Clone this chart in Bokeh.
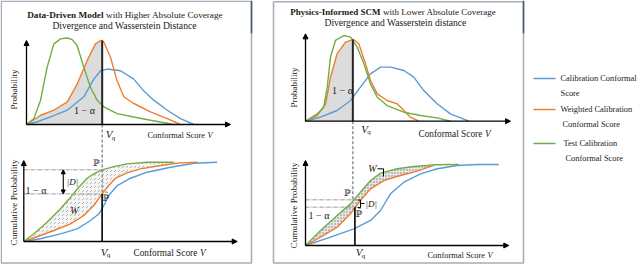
from math import pi
from bokeh.plotting import figure
from bokeh.models import Range1d, Arrow, NormalHead, Label
from bokeh.embed import file_html
from bokeh.resources import INLINE

# ---------------- data ----------------
# conformal score V in axis units (0 .. 10 along each x axis), probability in axis units
# Left panel: Data-Driven Model -- probability densities
LP_CAL_V = [0, 0.5, 1.18, 2.0, 2.81, 3.3, 3.63, 3.96, 4.61, 5.26, 5.75, 6.24, 6.9, 7.55, 8.2]
LP_CAL_P = [0, 0.03, 0.09, 0.17, 0.33, 0.54, 0.64, 0.66, 0.64, 0.54, 0.40, 0.29, 0.17, 0.07, 0.0]
LP_WCAL_V = [0, 0.69, 1.34, 2.0, 2.48, 2.97, 3.38, 3.63, 3.71, 3.79, 4.12, 4.44, 4.77, 5.26, 6.08, 6.9, 7.55]
LP_WCAL_P = [0, 0.11, 0.17, 0.27, 0.48, 0.76, 0.96, 1.0, 1.0, 0.98, 0.80, 0.52, 0.33, 0.25, 0.15, 0.07, 0.0]
LP_TEST_V = [0, 0.36, 0.69, 1.01, 1.34, 1.67, 2.0, 2.24, 2.48, 2.81, 3.14, 3.46, 3.79, 4.44, 5.26, 6.08, 7.22]
LP_TEST_P = [0, 0.07, 0.29, 0.68, 0.96, 1.02, 1.03, 1.01, 0.94, 0.68, 0.44, 0.29, 0.21, 0.13, 0.09, 0.05, 0.0]
# Left panel -- cumulative probabilities
LC_CAL_V = [0, 0.78, 1.72, 2.5, 3.13, 3.52, 3.75, 3.98, 4.38, 5.0, 5.78, 6.88, 7.97, 9.06]
LC_CAL_P = [0, 0.034, 0.097, 0.16, 0.265, 0.349, 0.454, 0.58, 0.706, 0.798, 0.874, 0.937, 0.987, 1.0]
LC_WCAL_V = [0, 0.78, 1.41, 2.19, 2.81, 3.28, 3.67, 3.98, 4.30, 4.84, 5.47, 6.41, 7.34, 8.13]
LC_WCAL_P = [0, 0.076, 0.139, 0.223, 0.328, 0.454, 0.601, 0.706, 0.798, 0.866, 0.916, 0.958, 0.992, 1.0]
LC_TEST_V = [0, 0.47, 1.09, 1.72, 2.19, 2.58, 2.97, 3.28, 3.67, 4.22, 4.84, 5.78, 7.03]
LC_TEST_P = [0, 0.097, 0.244, 0.412, 0.559, 0.685, 0.798, 0.853, 0.903, 0.945, 0.979, 1.0, 1.0]
L_VQ_PDF = 3.71
L_VQ_CDF = 3.67
L_P_LEVEL = 0.904
L_ALPHA_LEVEL = 0.60

# Right panel: Physics-Informed SCM -- probability densities
RP_CAL_V = [0, 0.73, 1.54, 2.20, 2.68, 3.17, 3.66, 4.15, 4.80, 5.28, 5.77, 6.42, 7.07, 7.97]
RP_CAL_P = [0, 0.049, 0.13, 0.251, 0.413, 0.575, 0.656, 0.656, 0.615, 0.534, 0.372, 0.211, 0.089, 0.0]
RP_WCAL_V = [0, 0.57, 0.98, 1.22, 1.54, 1.95, 2.31, 2.36, 2.60, 2.93, 3.17, 3.50, 3.98, 4.47, 4.80, 5.12, 5.53]
RP_WCAL_P = [0, 0.069, 0.211, 0.534, 0.818, 0.96, 0.99, 0.988, 0.939, 0.696, 0.494, 0.332, 0.251, 0.211, 0.13, 0.049, 0.0]
RP_TEST_V = [0, 0.57, 0.89, 1.06, 1.22, 1.46, 1.87, 2.20, 2.52, 2.85, 3.17, 3.50, 3.98, 4.80, 5.61, 6.42, 7.07]
RP_TEST_P = [0, 0.089, 0.17, 0.413, 0.777, 0.98, 1.04, 1.02, 0.899, 0.696, 0.453, 0.291, 0.19, 0.109, 0.069, 0.04, 0.0]
# Right panel -- cumulative probabilities
RC_CAL_V = [0, 1.23, 2.38, 3.20, 3.69, 4.18, 4.84, 5.66, 6.48, 7.46, 8.44, 9.51]
RC_CAL_P = [0, 0.103, 0.206, 0.309, 0.432, 0.638, 0.782, 0.885, 0.947, 0.988, 1.0, 1.0]
RC_WCAL_V = [0, 0.74, 1.56, 2.21, 2.70, 3.20, 3.85, 4.67, 5.49, 6.31]
RC_WCAL_P = [0, 0.103, 0.226, 0.391, 0.556, 0.70, 0.802, 0.864, 0.918, 0.99]
RC_TEST_V = [0, 0.74, 1.56, 2.21, 2.70, 3.20, 3.69, 4.51, 5.33, 6.31, 7.54]
RC_TEST_P = [0, 0.185, 0.37, 0.514, 0.658, 0.802, 0.893, 0.947, 0.975, 0.996, 1.0]
R_VQ_PDF = 2.31
R_VQ_CDF = 2.43
R_P_LEVEL = 0.564
R_ALPHA_LEVEL = 0.473

LEGEND_LABELS = [["Calibration Conformal", "Score"],
                 ["Weighted Calibration", "Conformal Score"],
                 ["Test Calibration", "Conformal Score"]]

# ---------------- styling / layout ----------------
BLUE, ORANGE, GREEN = "#5B9BD5", "#ED7D31", "#70AD47"
SERIF = "Liberation Serif"
W, H = 640, 264
X_END = 10.0
# sub-plot geometry in page pixels: origin x, origin y, x-axis tip, y of unit probability, y-axis top
GEOM = {
    "lpdf": (26.0, 124.0, 230.0, 40.0, 1.0),
    "lcdf": (23.3, 241.0, 236.7, 161.7, 1.02),
    "rpdf": (305.0, 120.7, 510.0, 38.3, 1.06),
    "rcdf": (305.0, 245.0, 508.3, 164.0, 1.05),
}

p = figure(width=W, height=H, x_range=Range1d(0, W), y_range=Range1d(H, 0),
           output_backend="svg", toolbar_location=None, min_border=0,
           x_axis_location=None, y_axis_location=None, background_fill_color="white",
           border_fill_color="white", outline_line_color=None)
p.xgrid.visible = False
p.ygrid.visible = False

xr, yr = {}, {}
for k, (ox, oy, xt, py1, _) in GEOM.items():
    sx = X_END / (xt - ox)
    xr[k] = Range1d((0 - ox) * sx, (W - ox) * sx)
    sy = 1.0 / (oy - py1)
    yr[k] = Range1d((oy - H) * sy, (oy - 0) * sy)
p.extra_x_ranges = xr
p.extra_y_ranges = yr


def pix_x(k, v):
    ox, oy, xt, py1, _ = GEOM[k]
    return ox + v * (xt - ox) / X_END


def pix_y(k, pr):
    ox, oy, xt, py1, _ = GEOM[k]
    return oy - pr * (oy - py1)


def lab(x, y, text, size=10, style="normal", align="center", baseline="middle", angle=0,
        font=SERIF, color="#1a1a1a"):
    p.add_layout(Label(x=x, y=y, text=text, text_font=font, text_font_size=f"{size}px",
                       text_font_style=style, text_align=align, text_baseline=baseline,
                       angle=angle, text_color=color))


# panel frames
FRAME = "#a3adbb"
p.line([0.8, 251, 251, 0.8, 0.8], [0.8, 0.8, 262.5, 262.5, 0.8], line_color=FRAME, line_width=1.5)
p.line([273, 523, 523, 273, 273], [1.2, 1.2, 262.5, 262.5, 1.2], line_color=FRAME, line_width=1.5)
p.line([251, 251], [0, 33], line_color="#44546a", line_width=1.5)
p.line([523, 523], [0, 33], line_color="#44546a", line_width=1.5)


def curves(k, sets):
    for v, pr, c in sets:
        p.line(v, pr, x_range_name=k, y_range_name=k, line_color=c, line_width=1.4)


def axes(k):
    top = GEOM[k][4]
    head = dict(size=5, fill_color="black", line_color="black")
    p.add_layout(Arrow(x_start=0, y_start=0, x_end=X_END, y_end=0, x_range_name=k, y_range_name=k,
                       line_width=1.3, end=NormalHead(**head)))
    p.add_layout(Arrow(x_start=0, y_start=0, x_end=0, y_end=top, x_range_name=k, y_range_name=k,
                       line_width=1.3, end=NormalHead(**head)))


# ---- shaded areas (under weighted calibration density up to V_q) ----
for k, vq, v, pr in (("lpdf", L_VQ_PDF, LP_WCAL_V, LP_WCAL_P), ("rpdf", R_VQ_PDF, RP_WCAL_V, RP_WCAL_P)):
    sv = [a for a in v if a <= vq]
    sp = [b for a, b in zip(v, pr) if a <= vq]
    p.varea(x=sv, y1=0, y2=sp, x_range_name=k, y_range_name=k, fill_color="#dcdcdc", fill_alpha=1)

# ---- hatched Wasserstein regions ----
p.patch(LC_TEST_V + LC_WCAL_V[::-1], LC_TEST_P + LC_WCAL_P[::-1], x_range_name="lcdf", y_range_name="lcdf",
        fill_color="#f4f4f4", fill_alpha=1, line_color=None, hatch_pattern=",", hatch_color="#8a8a8a",
        hatch_scale=4, hatch_weight=0.6)
p.patch(RC_TEST_V + RC_WCAL_V[::-1], RC_TEST_P + RC_WCAL_P[::-1], x_range_name="rcdf", y_range_name="rcdf",
        fill_color="#e8e8e8", fill_alpha=1, line_color=None, hatch_pattern=".", hatch_color="#7a7a7a",
        hatch_scale=3, hatch_weight=0.6)

# ---- dash-dot levels in CDFs ----
for k, vq, levels in (("lcdf", L_VQ_CDF, (L_P_LEVEL, L_ALPHA_LEVEL)), ("rcdf", R_VQ_CDF + 0.1, (R_P_LEVEL, R_ALPHA_LEVEL))):
    for lv in levels:
        p.line([0, vq], [lv, lv], x_range_name=k, y_range_name=k, line_color="#8c8c8c",
               line_width=0.9, line_dash="4 1 1 1")

# ---- curves ----
curves("lpdf", [(LP_CAL_V, LP_CAL_P, BLUE), (LP_WCAL_V, LP_WCAL_P, ORANGE), (LP_TEST_V, LP_TEST_P, GREEN)])
curves("lcdf", [(LC_CAL_V, LC_CAL_P, BLUE), (LC_WCAL_V, LC_WCAL_P, ORANGE), (LC_TEST_V, LC_TEST_P, GREEN)])
curves("rpdf", [(RP_CAL_V, RP_CAL_P, BLUE), (RP_WCAL_V, RP_WCAL_P, ORANGE), (RP_TEST_V, RP_TEST_P, GREEN)])
curves("rcdf", [(RC_CAL_V, RC_CAL_P, BLUE), (RC_WCAL_V, RC_WCAL_P, ORANGE), (RC_TEST_V, RC_TEST_P, GREEN)])

# ---- V_q markers ----
p.line([L_VQ_PDF, L_VQ_PDF], [0, 1.0], x_range_name="lpdf", y_range_name="lpdf", line_color="#262626", line_width=2)
p.line([R_VQ_PDF, R_VQ_PDF], [0, 0.99], x_range_name="rpdf", y_range_name="rpdf", line_color="#262626", line_width=2)
p.line([L_VQ_CDF, L_VQ_CDF], [0, L_ALPHA_LEVEL], x_range_name="lcdf", y_range_name="lcdf", line_color="black", line_width=1.6)
p.line([R_VQ_CDF, R_VQ_CDF], [0, R_ALPHA_LEVEL], x_range_name="rcdf", y_range_name="rcdf", line_color="black", line_width=1.6)
p.line([pix_x("lpdf", L_VQ_PDF)] * 2, [pix_y("lpdf", 0), pix_y("lcdf", L_ALPHA_LEVEL)],
       line_color="#7f7f7f", line_width=1.3, line_dash="3 2")
p.line([pix_x("rpdf", R_VQ_PDF)] * 2, [pix_y("rpdf", 0), pix_y("rcdf", R_P_LEVEL)],
       line_color="#7f7f7f", line_width=1.3, line_dash="3 2")

for k in GEOM:
    axes(k)

# |D| arrow (left)
p.add_layout(Arrow(x_start=1.85, y_start=L_ALPHA_LEVEL, x_end=1.85, y_end=L_P_LEVEL, x_range_name="lcdf",
                   y_range_name="lcdf", line_width=1.1,
                   start=NormalHead(size=4, fill_color="black", line_color="black"),
                   end=NormalHead(size=4, fill_color="black", line_color="black")))
# brackets (right)
p.line([357, 360, 360, 357], [199.5, 199.5, 207, 207], line_color="black", line_width=1)
p.line([360, 364], [203, 203], line_color="black", line_width=1)
p.line([377, 383, 383], [168.3, 168.3, 176], line_color="black", line_width=1)

# ---- texts ----
# titles
lab(103, 14, "Data-Driven Model", 9.2, "bold", "right")
lab(105.5, 14, "with Higher Absolute Coverage", 9.2, "normal", "left")
lab(124, 24.5, "Divergence and Wasserstein Distance", 9.6)
lab(380, 11, "Physics-Informed SCM", 9, "bold", "right")
lab(382.5, 11, "with Lower Absolute Coverage", 9, "normal", "left")
lab(395, 22, "Divergence and Wasserstein distance", 9.6)

# axis labels
for x0, ypdf, ycdf in ((13, 89, 202), (293, 87, 205)):
    lab(x0, ypdf, "Probability", 9, angle=pi / 2)
    lab(x0, ycdf, "Cumulative Probability", 9.2, angle=pi / 2)
for x0, y0, fs in ((147, 135, 8.4), (133, 252, 9.3), (418, 133, 9.3), (427, 254.5, 8.4)):
    lab(x0, y0, "Conformal Score", fs, align="left")
    lab(x0 + 7.15 * fs, y0, "V", fs, "italic", align="left")

# V_q labels
for x0, y0 in ((108.5, 133.5), (103.5, 251), (364, 128), (358.5, 251.5)):
    lab(x0, y0, "V", 11, "italic")
    lab(x0 + 4.5, y0 + 3.5, "q", 7)

# 1 - alpha labels
lab(84, 110, "1 − α", 10)
lab(342, 90, "1 − α", 10)
lab(25, 189.5, "1 − α", 10, align="left")
lab(308, 214.5, "1 − α", 10, align="left")

# probability measure symbols
lab(96, 162.5, "ℙ", 9, font="DejaVu Serif")
lab(105.5, 197, "ℙ̂", 9, font="DejaVu Serif")
lab(347, 192.5, "ℙ", 9, font="DejaVu Serif")
lab(358.5, 213.5, "ℙ̂", 9, font="DejaVu Serif")
lab(72, 181, "|D|", 9, "italic")
lab(365, 203, "|D|", 9, "italic", align="left")
lab(74, 210, "W", 10, "italic")
lab(372, 168, "W", 10, "italic")

# legend
for (c, y0, (l1, l2), tx) in ((BLUE, 78, LEGEND_LABELS[0], 560), (ORANGE, 109, LEGEND_LABELS[1], 560),
                              (GREEN, 143, LEGEND_LABELS[2], 563)):
    p.line([533, 555], [y0, y0], line_color=c, line_width=1.5)
    lab(tx, y0, l1, 8.4, align="left")
    lab(tx + (0 if c == BLUE else 2), y0 + 14.5, l2, 8.4, align="left")

open("out.html", "w").write(file_html(p, INLINE))
